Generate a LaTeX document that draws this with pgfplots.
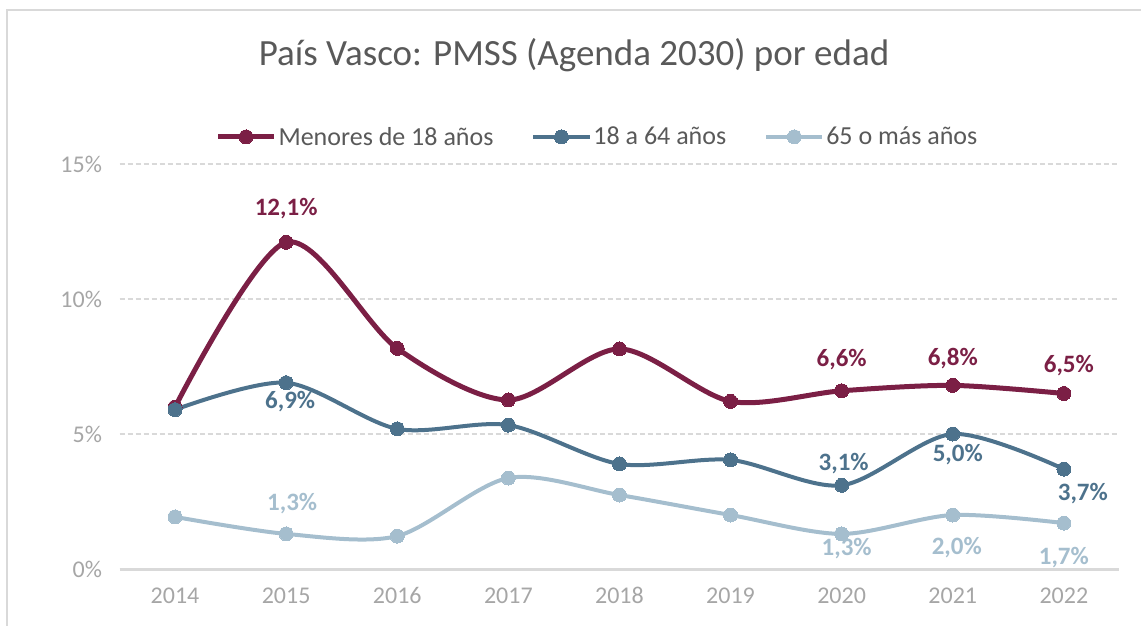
\documentclass[border=0pt]{standalone}
\usepackage{fontspec}
\setmainfont{Carlito}
\usepackage{pgfplots}
\pgfplotsset{compat=1.18}
\definecolor{cMen}{HTML}{7B1F45}
\definecolor{cMid}{HTML}{4D728C}
\definecolor{cOld}{HTML}{A5BECE}
\definecolor{cGrid}{HTML}{D9D9D9}
\definecolor{cTick}{HTML}{A6A6A6}
\definecolor{cText}{HTML}{595959}
\begin{document}
\begin{tikzpicture}[x=1pt,y=1pt]
\useasboundingbox (0,0) rectangle (1141,625);
\draw[cGrid, line width=2pt] (7,-5) -- (7,615) -- (1146,615);
\node[anchor=base, text=cText, font=\fontsize{37}{44}\selectfont] at (574,559) {País Vasco: PMSS (Agenda 2030) por edad};
\begin{axis}[
  at={(119.5pt,56pt)}, anchor=south west,
  width=1000pt, height=405pt, scale only axis,
  xmin=2013.5, xmax=2022.5, ymin=0, ymax=15,
  xtick={2014,2015,2016,2017,2018,2019,2020,2021,2022},
  xticklabels={2014,2015,2016,2017,2018,2019,2020,2021,2022},
  ytick={0,5,10,15},
  yticklabels={0\%,5\%,10\%,15\%},
  axis x line*=bottom, axis y line*=left,
  x axis line style={cGrid, line width=3pt, -},
  y axis line style={draw=none},
  major tick length=0pt,
  ymajorgrids,
  major grid style={cGrid, line width=1.3pt, dash pattern=on 5pt off 3pt},
  ticklabel style={text=cTick, font=\fontsize{24}{28}\selectfont},
  xticklabel style={yshift=-15pt},
  yticklabel style={xshift=-14pt},
  clip=false,
  legend columns=3,
  legend style={draw=none, fill=none, at={(0.478,1.067)}, anchor=center,
    font=\fontsize{26}{30}\selectfont, text=cText,
    /tikz/every even column/.append style={column sep=36pt},
    nodes={inner sep=2pt}},
  legend image code/.code={\draw[mark repeat=2,mark phase=2,#1] plot coordinates {(0pt,0pt) (28pt,0pt) (56pt,0pt)};},
]
\addplot[cMen, line width=5pt, smooth, tension=0.5, mark=*, mark size=7pt, mark options={solid, fill=cMen, draw=cMen, line width=0pt}]
 coordinates {(2014,6.0) (2015,12.1) (2016,8.17) (2017,6.26) (2018,8.15) (2019,6.21) (2020,6.6) (2021,6.8) (2022,6.5)};
\addlegendentry{Menores de 18 años}
\addplot[cMid, line width=4pt, smooth, tension=0.5, mark=*, mark size=7pt, mark options={solid, fill=cMid, draw=cMid, line width=0pt}]
 coordinates {(2014,5.9) (2015,6.9) (2016,5.19) (2017,5.33) (2018,3.89) (2019,4.04) (2020,3.1) (2021,5.0) (2022,3.7)};
\addlegendentry{18 a 64 años}
\addplot[cOld, line width=4pt, smooth, tension=0.5, mark=*, mark size=7pt, mark options={solid, fill=cOld, draw=cOld, line width=0pt}]
 coordinates {(2014,1.93) (2015,1.3) (2016,1.22) (2017,3.37) (2018,2.74) (2019,2.0) (2020,1.3) (2021,2.0) (2022,1.7)};
\addlegendentry{65 o más años}
\begin{scope}[every node/.style={font=\bfseries\fontsize{25}{30}\selectfont, anchor=center}]
\node[text=cMen] at (axis cs:2015,12.1) [yshift=34pt] {12,1\%};
\node[text=cMen] at (axis cs:2020,6.6) [yshift=31pt] {6,6\%};
\node[text=cMen] at (axis cs:2021,6.8) [yshift=27pt] {6,8\%};
\node[text=cMen] at (axis cs:2022,6.5) [yshift=28pt, xshift=5pt] {6,5\%};
\node[text=cMid] at (axis cs:2015,6.9) [yshift=-19pt, xshift=4pt] {6,9\%};
\node[text=cMid] at (axis cs:2020,3.1) [yshift=22pt, xshift=2pt] {3,1\%};
\node[text=cMid] at (axis cs:2021,5.0) [yshift=-21pt, xshift=5pt] {5,0\%};
\node[text=cMid] at (axis cs:2022,3.7) [yshift=-24pt, xshift=19pt] {3,7\%};
\node[text=cOld] at (axis cs:2015,1.3) [yshift=30pt, xshift=6pt] {1,3\%};
\node[text=cOld] at (axis cs:2020,1.3) [yshift=-15pt, xshift=5pt] {1,3\%};
\node[text=cOld] at (axis cs:2021,2.0) [yshift=-33pt, xshift=4pt] {2,0\%};
\node[text=cOld] at (axis cs:2022,1.7) [yshift=-34pt] {1,7\%};
\end{scope}
\end{axis}
\end{tikzpicture}
\end{document}
